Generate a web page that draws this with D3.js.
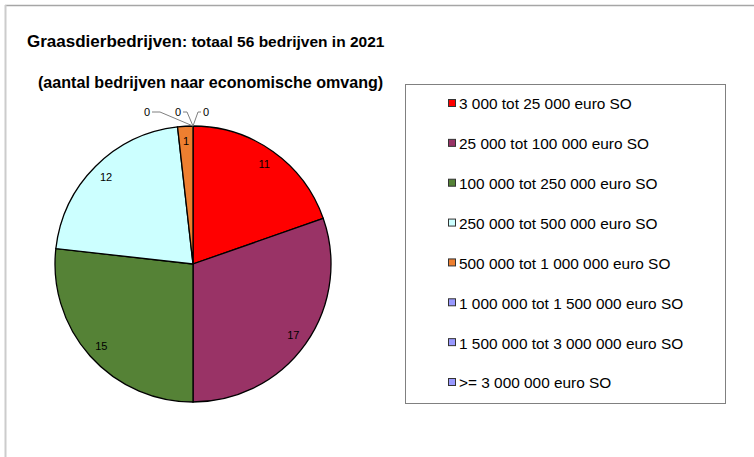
<!DOCTYPE html>
<html>
<head>
<meta charset="utf-8">
<script src="https://cdn.jsdelivr.net/npm/d3@7"></script>
<style>
  body { margin:0; background:#fff; }
  svg { display:block; font-family: "Liberation Sans", Arial, sans-serif; }
</style>
</head>
<body>
<svg id="chart" width="754" height="457"></svg>
<script>
// size classes (economische omvang) and number of farms
const categories = [
    "3 000 tot 25 000 euro SO",
    "25 000 tot 100 000 euro SO",
    "100 000 tot 250 000 euro SO",
    "250 000 tot 500 000 euro SO",
    "500 000 tot 1 000 000 euro SO",
    "1 000 000 tot 1 500 000 euro SO",
    "1 500 000 tot 3 000 000 euro SO",
    ">= 3 000 000 euro SO"
];
const values = [11, 17, 15, 12, 1, 0, 0, 0];
const colors = ["#ff0000", "#993366", "#558236", "#ccffff", "#ee7f30", "#9999ff", "#9999ff", "#9999ff"];

const svg = d3.select("#chart");

// frame lines of the chart area
svg.append("line").attr("x1",5).attr("x2",754).attr("y1",5.5).attr("y2",5.5)
    .attr("stroke","#a6a6a6").attr("stroke-width",1.5);
svg.append("line").attr("x1",5.5).attr("x2",5.5).attr("y1",5).attr("y2",457)
    .attr("stroke","#cccccc").attr("stroke-width",2);

// title
const title = svg.append("text").attr("x",27).attr("y",47).attr("font-weight","bold").attr("fill","#000");
title.append("tspan").attr("font-size","17px").text("Graasdierbedrijven");
title.append("tspan").attr("font-size","15.5px").text(": totaal 56 bedrijven in 2021");
svg.append("text").attr("x",38).attr("y",88).attr("font-weight","bold").attr("font-size","16.1px")
    .attr("fill","#000")
    .text("(aantal bedrijven naar economische omvang)");

/* ---------- pie ---------- */
const cx = 193, cy = 264, R = 138;
const g = svg.append("g").attr("transform", `translate(${cx},${cy})`);

const pie = d3.pie().sort(null).value(d => d)(values);
const arc = d3.arc().innerRadius(0).outerRadius(R);
const labelArc = d3.arc().innerRadius(123).outerRadius(123);

g.selectAll("path.slice").data(pie.filter(d => d.value > 0))
    .join("path").attr("class","slice")
    .attr("d", arc)
    .attr("fill", d => colors[d.index])
    .attr("stroke","#000").attr("stroke-width",1.3);

// labels inside the slices
g.selectAll("text.lbl").data(pie.filter(d => d.value > 0))
    .join("text").attr("class","lbl")
    .attr("transform", d => `translate(${labelArc.centroid(d)})`)
    .attr("text-anchor","middle").attr("dy","0.35em")
    .attr("font-size","11px").attr("fill","#000")
    .text(d => d.value);

// zero slices: labels outside the pie with leader lines
const zeros = pie.filter(d => d.value === 0);
const zeroDx = [-46, -15, 13];     // label centres, relative to pie centre
const zeroElbow = [-33, -6, 5];    // where the leader turns horizontal
const zeroY = -152;
zeros.forEach((d, i) => {
    const toLeft = zeroDx[i] < zeroElbow[i];
    const lineEnd = zeroDx[i] + (toLeft ? 5 : -5);
    g.append("path")
        .attr("d", d3.line()([[0, -R], [zeroElbow[i], zeroY], [lineEnd, zeroY]]))
        .attr("fill","none").attr("stroke","#808080").attr("stroke-width",1);
    g.append("text")
        .attr("x", zeroDx[i]).attr("y", zeroY).attr("dy","0.35em")
        .attr("text-anchor","middle").attr("font-size","11px").attr("fill","#000")
        .text(d.value);
});

/* ---------- legend ---------- */
svg.append("rect").attr("x",405.5).attr("y",84.5).attr("width",320).attr("height",319)
    .attr("fill","#fff").attr("stroke","#808080").attr("stroke-width",1);

const ly = d3.scalePoint().domain(categories).range([104, 383]);
const leg = svg.append("g").selectAll("g").data(categories).join("g")
    .attr("transform", d => `translate(448,${ly(d)})`);
leg.append("rect").attr("x",0.5).attr("y",-4.5).attr("width",7).attr("height",7)
    .attr("fill", (d,i) => colors[i]).attr("stroke","#333").attr("stroke-width",1);
leg.append("text").attr("x",11).attr("y",0).attr("dy","0.35em")
    .attr("font-size","15.4px").attr("fill","#000").text(d => d);
</script>
</body>
</html>
